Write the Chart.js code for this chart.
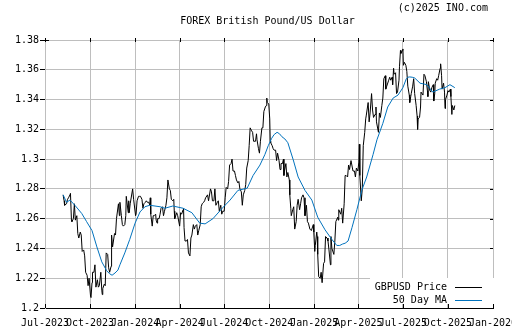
<!DOCTYPE html>
<html>
<head>
<meta charset="utf-8">
<script src="https://cdn.jsdelivr.net/npm/chart.js@4/dist/chart.umd.min.js"></script>
<style>
  html, body { margin: 0; padding: 0; background: #fff; }
  #wrap { position: relative; width: 512px; height: 335px; overflow: hidden;
          font-family: "DejaVu Sans Mono", monospace; font-size: 10px; color: #000; }
  #chart { position: absolute; left: 0; top: 0; }
  .txt { position: absolute; white-space: nowrap; line-height: 12px; }
  #copy { right: 24px; top: 2px; }
  #title { left: 0; width: 535px; text-align: center; top: 15px; }
  #legend { position: absolute; left: 370px; top: 278px; width: 126px; height: 26px; background: #fff; }
  .lrow { position: absolute; right: 49px; text-align: right; }
  .lline { position: absolute; left: 85px; width: 27px; height: 1px; }
</style>
</head>
<body>
<div id="wrap">
  <canvas id="chart" width="512" height="335"></canvas>
  <div class="txt" id="copy">(c)2025 INO.com</div>
  <div class="txt" id="title">FOREX British Pound/US Dollar</div>
  <div id="legend">
    <div class="txt lrow" style="top:3px">GBPUSD Price</div>
    <div class="lline" style="top:9px;background:#000"></div>
    <div class="txt lrow" style="top:16px">50 Day MA</div>
    <div class="lline" style="top:22px;background:#0072bd"></div>
  </div>
</div>
<script>
// x axis: quarter starts
const tickDates = ['2023-07-01', '2023-10-01', '2024-01-01', '2024-04-01', '2024-07-01', '2024-10-01',
  '2025-01-01', '2025-04-01', '2025-07-01', '2025-10-01', '2026-01-01'];
const tickLabels = ['Jul-2023', 'Oct-2023', 'Jan-2024', 'Apr-2024', 'Jul-2024', 'Oct-2024',
  'Jan-2025', 'Apr-2025', 'Jul-2025', 'Oct-2025', 'Jan-2026'];

// GBPUSD closes
const price2023 = [
  ['2023-08-07', 1.2760], ['2023-08-09', 1.2720], ['2023-08-10', 1.2690], ['2023-08-14', 1.2700],
  ['2023-08-16', 1.2730], ['2023-08-18', 1.2740], ['2023-08-21', 1.2760], ['2023-08-22', 1.2770],
  ['2023-08-24', 1.2590], ['2023-08-25', 1.2580], ['2023-08-28', 1.2600], ['2023-08-30', 1.2700],
  ['2023-09-01', 1.2590], ['2023-09-04', 1.2620], ['2023-09-06', 1.2500], ['2023-09-08', 1.2470],
  ['2023-09-11', 1.2510], ['2023-09-13', 1.2490], ['2023-09-15', 1.2380], ['2023-09-18', 1.2390],
  ['2023-09-20', 1.2350], ['2023-09-22', 1.2240], ['2023-09-25', 1.2220], ['2023-09-27', 1.2150],
  ['2023-09-29', 1.2200], ['2023-10-02', 1.2080], ['2023-10-03', 1.2070], ['2023-10-05', 1.2170],
  ['2023-10-06', 1.2240], ['2023-10-09', 1.2240], ['2023-10-11', 1.2290], ['2023-10-13', 1.2140],
  ['2023-10-16', 1.2190], ['2023-10-18', 1.2140], ['2023-10-20', 1.2150], ['2023-10-23', 1.2240],
  ['2023-10-25', 1.2120], ['2023-10-26', 1.2090], ['2023-10-27', 1.2130], ['2023-10-30', 1.2160],
  ['2023-11-01', 1.2150], ['2023-11-03', 1.2370], ['2023-11-06', 1.2360], ['2023-11-08', 1.2270],
  ['2023-11-10', 1.2240], ['2023-11-13', 1.2280], ['2023-11-14', 1.2490], ['2023-11-16', 1.2410],
  ['2023-11-20', 1.2500], ['2023-11-22', 1.2490], ['2023-11-24', 1.2600], ['2023-11-28', 1.2700],
  ['2023-11-30', 1.2620], ['2023-12-01', 1.2710], ['2023-12-04', 1.2620], ['2023-12-06', 1.2560],
  ['2023-12-08', 1.2550], ['2023-12-11', 1.2560], ['2023-12-13', 1.2620], ['2023-12-14', 1.2750],
  ['2023-12-18', 1.2640], ['2023-12-19', 1.2720], ['2023-12-20', 1.2640], ['2023-12-22', 1.2700],
  ['2023-12-27', 1.2800], ['2023-12-29', 1.2730]
];
const price2024 = [
  ['2024-01-02', 1.2620], ['2024-01-03', 1.2630], ['2024-01-05', 1.2720], ['2024-01-08', 1.2750],
  ['2024-01-10', 1.2750], ['2024-01-12', 1.2750], ['2024-01-15', 1.2730], ['2024-01-17', 1.2670],
  ['2024-01-19', 1.2700], ['2024-01-22', 1.2710], ['2024-01-24', 1.2720], ['2024-01-26', 1.2710],
  ['2024-01-29', 1.2710], ['2024-01-31', 1.2690], ['2024-02-01', 1.2740], ['2024-02-02', 1.2630],
  ['2024-02-05', 1.2550], ['2024-02-07', 1.2620], ['2024-02-09', 1.2620], ['2024-02-12', 1.2630],
  ['2024-02-13', 1.2590], ['2024-02-15', 1.2570], ['2024-02-16', 1.2600], ['2024-02-19', 1.2600],
  ['2024-02-21', 1.2630], ['2024-02-23', 1.2670], ['2024-02-26', 1.2680], ['2024-02-28', 1.2620],
  ['2024-03-01', 1.2650], ['2024-03-04', 1.2690], ['2024-03-06', 1.2740], ['2024-03-08', 1.2860],
  ['2024-03-11', 1.2800], ['2024-03-13', 1.2790], ['2024-03-15', 1.2730], ['2024-03-18', 1.2720],
  ['2024-03-20', 1.2730], ['2024-03-21', 1.2650], ['2024-03-22', 1.2600], ['2024-03-26', 1.2640],
  ['2024-03-28', 1.2620], ['2024-04-01', 1.2550], ['2024-04-03', 1.2640], ['2024-04-05', 1.2630],
  ['2024-04-08', 1.2660], ['2024-04-09', 1.2670], ['2024-04-10', 1.2540], ['2024-04-12', 1.2450],
  ['2024-04-15', 1.2450], ['2024-04-17', 1.2460], ['2024-04-19', 1.2370], ['2024-04-22', 1.2350],
  ['2024-04-24', 1.2470], ['2024-04-26', 1.2490], ['2024-04-29', 1.2560], ['2024-05-01', 1.2530],
  ['2024-05-03', 1.2550], ['2024-05-06', 1.2560], ['2024-05-08', 1.2490], ['2024-05-10', 1.2520],
  ['2024-05-13', 1.2560], ['2024-05-15', 1.2680], ['2024-05-17', 1.2700], ['2024-05-20', 1.2710],
  ['2024-05-22', 1.2720], ['2024-05-24', 1.2740], ['2024-05-28', 1.2760], ['2024-05-30', 1.2720],
  ['2024-06-03', 1.2800], ['2024-06-05', 1.2780], ['2024-06-07', 1.2720], ['2024-06-10', 1.2720],
  ['2024-06-12', 1.2800], ['2024-06-14', 1.2690], ['2024-06-17', 1.2710], ['2024-06-19', 1.2720],
  ['2024-06-21', 1.2650], ['2024-06-24', 1.2690], ['2024-06-26', 1.2630], ['2024-06-28', 1.2650],
  ['2024-07-01', 1.2650], ['2024-07-03', 1.2740], ['2024-07-05', 1.2810], ['2024-07-08', 1.2800],
  ['2024-07-10', 1.2850], ['2024-07-12', 1.2960], ['2024-07-15', 1.2970], ['2024-07-17', 1.3000],
  ['2024-07-19', 1.2920], ['2024-07-22', 1.2920], ['2024-07-24', 1.2890], ['2024-07-26', 1.2860],
  ['2024-07-29', 1.2840], ['2024-07-31', 1.2850], ['2024-08-02', 1.2800], ['2024-08-05', 1.2780],
  ['2024-08-07', 1.2690], ['2024-08-09', 1.2760], ['2024-08-12', 1.2790], ['2024-08-14', 1.2830],
  ['2024-08-16', 1.2940], ['2024-08-19', 1.2990], ['2024-08-21', 1.3090], ['2024-08-23', 1.3210],
  ['2024-08-26', 1.3190], ['2024-08-28', 1.3180], ['2024-08-30', 1.3120], ['2024-09-03', 1.3120],
  ['2024-09-05', 1.3170], ['2024-09-06', 1.3130], ['2024-09-09', 1.3070], ['2024-09-11', 1.3040],
  ['2024-09-13', 1.3120], ['2024-09-16', 1.3210], ['2024-09-18', 1.3210], ['2024-09-20', 1.3320],
  ['2024-09-23', 1.3350], ['2024-09-25', 1.3360], ['2024-09-26', 1.3410], ['2024-09-27', 1.3380],
  ['2024-09-30', 1.3370], ['2024-10-02', 1.3270], ['2024-10-03', 1.3120], ['2024-10-04', 1.3110],
  ['2024-10-07', 1.3090], ['2024-10-09', 1.3070], ['2024-10-11', 1.3060], ['2024-10-14', 1.3060],
  ['2024-10-16', 1.2990], ['2024-10-18', 1.3040], ['2024-10-21', 1.2990], ['2024-10-23', 1.2930],
  ['2024-10-25', 1.2970], ['2024-10-28', 1.2970], ['2024-10-30', 1.3000], ['2024-10-31', 1.2890],
  ['2024-11-01', 1.2920], ['2024-11-04', 1.2970], ['2024-11-06', 1.2880], ['2024-11-08', 1.2910],
  ['2024-11-11', 1.2860], ['2024-11-12', 1.2760], ['2024-11-14', 1.2670], ['2024-11-15', 1.2620],
  ['2024-11-18', 1.2660], ['2024-11-20', 1.2680], ['2024-11-22', 1.2530], ['2024-11-25', 1.2580],
  ['2024-11-27', 1.2690], ['2024-11-29', 1.2730], ['2024-12-02', 1.2660], ['2024-12-04', 1.2700],
  ['2024-12-06', 1.2740], ['2024-12-09', 1.2760], ['2024-12-11', 1.2740], ['2024-12-13', 1.2620],
  ['2024-12-16', 1.2690], ['2024-12-18', 1.2580], ['2024-12-20', 1.2570], ['2024-12-23', 1.2530],
  ['2024-12-26', 1.2520], ['2024-12-30', 1.2560], ['2024-12-31', 1.2510]
];
const price2025 = [
  ['2025-01-02', 1.2380], ['2025-01-03', 1.2420], ['2025-01-06', 1.2510], ['2025-01-07', 1.2480],
  ['2025-01-08', 1.2360], ['2025-01-10', 1.2210], ['2025-01-13', 1.2200], ['2025-01-15', 1.2240],
  ['2025-01-17', 1.2170], ['2025-01-20', 1.2300], ['2025-01-22', 1.2310], ['2025-01-24', 1.2480],
  ['2025-01-27', 1.2470], ['2025-01-29', 1.2450], ['2025-01-31', 1.2390], ['2025-02-03', 1.2290],
  ['2025-02-04', 1.2480], ['2025-02-06', 1.2400], ['2025-02-10', 1.2360], ['2025-02-12', 1.2450],
  ['2025-02-14', 1.2580], ['2025-02-18', 1.2610], ['2025-02-19', 1.2590], ['2025-02-20', 1.2660],
  ['2025-02-24', 1.2630], ['2025-02-26', 1.2670], ['2025-02-28', 1.2570], ['2025-03-03', 1.2700],
  ['2025-03-05', 1.2890], ['2025-03-07', 1.2890], ['2025-03-10', 1.2880], ['2025-03-12', 1.2960],
  ['2025-03-14', 1.2930], ['2025-03-17', 1.2990], ['2025-03-19', 1.2990], ['2025-03-21', 1.2920],
  ['2025-03-24', 1.2920], ['2025-03-26', 1.2880], ['2025-03-28', 1.2940], ['2025-03-31', 1.2920],
  ['2025-04-02', 1.2980], ['2025-04-03', 1.3100], ['2025-04-04', 1.2890], ['2025-04-07', 1.2720],
  ['2025-04-09', 1.2800], ['2025-04-11', 1.3090], ['2025-04-14', 1.3180], ['2025-04-16', 1.3270],
  ['2025-04-17', 1.3290], ['2025-04-21', 1.3380], ['2025-04-23', 1.3250], ['2025-04-25', 1.3310],
  ['2025-04-28', 1.3440], ['2025-04-30', 1.3330], ['2025-05-02', 1.3280], ['2025-05-05', 1.3300],
  ['2025-05-07', 1.3350], ['2025-05-08', 1.3250], ['2025-05-12', 1.3180], ['2025-05-14', 1.3310],
  ['2025-05-16', 1.3280], ['2025-05-19', 1.3360], ['2025-05-21', 1.3410], ['2025-05-23', 1.3540],
  ['2025-05-26', 1.3560], ['2025-05-27', 1.3470], ['2025-05-29', 1.3490], ['2025-06-02', 1.3530],
  ['2025-06-04', 1.3550], ['2025-06-06', 1.3530], ['2025-06-09', 1.3550], ['2025-06-10', 1.3500],
  ['2025-06-12', 1.3610], ['2025-06-13', 1.3570], ['2025-06-16', 1.3580], ['2025-06-18', 1.3440],
  ['2025-06-20', 1.3450], ['2025-06-23', 1.3530], ['2025-06-24', 1.3620], ['2025-06-26', 1.3730],
  ['2025-06-27', 1.3710], ['2025-06-30', 1.3730], ['2025-07-01', 1.3740], ['2025-07-02', 1.3630],
  ['2025-07-04', 1.3650], ['2025-07-07', 1.3630], ['2025-07-09', 1.3590], ['2025-07-11', 1.3490],
  ['2025-07-14', 1.3430], ['2025-07-15', 1.3380], ['2025-07-17', 1.3420], ['2025-07-18', 1.3440],
  ['2025-07-21', 1.3490], ['2025-07-23', 1.3540], ['2025-07-25', 1.3440], ['2025-07-28', 1.3360],
  ['2025-07-30', 1.3290], ['2025-07-31', 1.3200], ['2025-08-01', 1.3270], ['2025-08-04', 1.3280],
  ['2025-08-06', 1.3350], ['2025-08-07', 1.3450], ['2025-08-11', 1.3430], ['2025-08-13', 1.3570],
  ['2025-08-15', 1.3560], ['2025-08-18', 1.3520], ['2025-08-20', 1.3460], ['2025-08-21', 1.3420],
  ['2025-08-22', 1.3520], ['2025-08-25', 1.3460], ['2025-08-27', 1.3450], ['2025-08-29', 1.3480],
  ['2025-09-01', 1.3500], ['2025-09-02', 1.3390], ['2025-09-04', 1.3440], ['2025-09-05', 1.3510],
  ['2025-09-08', 1.3540], ['2025-09-10', 1.3530], ['2025-09-12', 1.3560], ['2025-09-15', 1.3610],
  ['2025-09-16', 1.3640], ['2025-09-18', 1.3560], ['2025-09-19', 1.3470], ['2025-09-22', 1.3510],
  ['2025-09-24', 1.3450], ['2025-09-25', 1.3340], ['2025-09-26', 1.3400], ['2025-09-29', 1.3430],
  ['2025-10-01', 1.3460], ['2025-10-03', 1.3450], ['2025-10-06', 1.3470], ['2025-10-07', 1.3420],
  ['2025-10-09', 1.3300], ['2025-10-10', 1.3360], ['2025-10-13', 1.3330], ['2025-10-15', 1.3360]
];

// 50 day moving average
const movingAvg = [
  ['2023-08-07', 1.2760], ['2023-08-14', 1.2710], ['2023-08-21', 1.2725], ['2023-08-31', 1.2690],
  ['2023-09-14', 1.2635], ['2023-09-24', 1.2580], ['2023-10-05', 1.2520], ['2023-10-15', 1.2410],
  ['2023-10-25', 1.2310], ['2023-11-04', 1.2250], ['2023-11-10', 1.2230], ['2023-11-15', 1.2220],
  ['2023-11-21', 1.2235], ['2023-11-27', 1.2255], ['2023-12-01', 1.2290], ['2023-12-11', 1.2370],
  ['2023-12-21', 1.2460], ['2024-01-01', 1.2570], ['2024-01-11', 1.2645], ['2024-01-21', 1.2680],
  ['2024-01-31', 1.2690], ['2024-02-21', 1.2680], ['2024-03-02', 1.2670], ['2024-03-18', 1.2685],
  ['2024-04-08', 1.2670], ['2024-04-26', 1.2640], ['2024-05-12', 1.2570], ['2024-05-23', 1.2565],
  ['2024-06-08', 1.2600], ['2024-06-27', 1.2670], ['2024-07-13', 1.2725], ['2024-07-29', 1.2790],
  ['2024-08-17', 1.2805], ['2024-08-29', 1.2890], ['2024-09-12', 1.2960], ['2024-09-22', 1.3030],
  ['2024-09-29', 1.3090], ['2024-10-06', 1.3140], ['2024-10-11', 1.3165], ['2024-10-17', 1.3180],
  ['2024-10-22', 1.3170], ['2024-10-27', 1.3150], ['2024-11-02', 1.3135], ['2024-11-08', 1.3110],
  ['2024-11-19', 1.2995], ['2024-11-29', 1.2880], ['2024-12-13', 1.2790], ['2024-12-27', 1.2725],
  ['2025-01-08', 1.2610], ['2025-01-23', 1.2525], ['2025-02-06', 1.2460], ['2025-02-16', 1.2420],
  ['2025-02-22', 1.2420], ['2025-02-28', 1.2430], ['2025-03-05', 1.2435], ['2025-03-11', 1.2450],
  ['2025-03-19', 1.2540], ['2025-03-29', 1.2660], ['2025-04-08', 1.2790], ['2025-04-18', 1.2880],
  ['2025-05-01', 1.3030], ['2025-05-09', 1.3130], ['2025-05-21', 1.3240], ['2025-05-31', 1.3350],
  ['2025-06-11', 1.3410], ['2025-06-21', 1.3430], ['2025-07-01', 1.3480], ['2025-07-08', 1.3540],
  ['2025-07-11', 1.3550], ['2025-07-15', 1.3552], ['2025-07-20', 1.3550], ['2025-07-25', 1.3545],
  ['2025-08-05', 1.3510], ['2025-08-19', 1.3500], ['2025-08-31', 1.3450], ['2025-09-14', 1.3470],
  ['2025-09-25', 1.3480], ['2025-10-05', 1.3500], ['2025-10-15', 1.3480]
];

const gridColor = '#bebebe';
const maColor = '#0072bd';
const tickFont = { family: 'DejaVu Sans Mono', size: 10 };

// days since 1 Jul 2023
function dayOf(s) {
  const t = Date.UTC(+s.slice(0, 4), +s.slice(5, 7) - 1, +s.slice(8, 10));
  return (t - Date.UTC(2023, 6, 1)) / 86400000;
}
const toPoints = rows => rows.map(r => ({ x: dayOf(r[0]), y: r[1] }));
const tickDays = tickDates.map(dayOf);

// little black tick marks on the frame
const frameMarks = {
  id: 'frameMarks',
  afterDraw(chart) {
    const { ctx, chartArea: a, scales } = chart;
    ctx.save();
    ctx.strokeStyle = '#000';
    ctx.lineWidth = 1;
    ctx.beginPath();
    tickDays.forEach(d => {
      const x = Math.round(scales.x.getPixelForValue(d)) + 0.5;
      ctx.moveTo(x, a.top - 2); ctx.lineTo(x, a.top + 2);
      ctx.moveTo(x, a.bottom - 4); ctx.lineTo(x, a.bottom);
    });
    scales.y.ticks.forEach(t => {
      const y = Math.round(scales.y.getPixelForValue(t.value)) + 0.5;
      ctx.moveTo(a.right - 3, y); ctx.lineTo(a.right, y);
    });
    ctx.moveTo(a.left, a.top + 0.5); ctx.lineTo(a.left + 4, a.top + 0.5);
    ctx.stroke();
    ctx.restore();
  }
};

const ctx = document.getElementById('chart').getContext('2d');
new Chart(ctx, {
  type: 'line',
  data: {
    datasets: [
      { label: '50 Day MA', data: toPoints(movingAvg), borderColor: maColor,
        borderWidth: 1, pointRadius: 0, tension: 0 },
      { label: 'GBPUSD Price', data: toPoints(price2023.concat(price2024, price2025)),
        borderColor: '#000', borderWidth: 1, pointRadius: 0, tension: 0 }
    ]
  },
  options: {
    responsive: false,
    animation: false,
    devicePixelRatio: 1,
    layout: { padding: { top: 40, right: 19, left: 0, bottom: 0 } },
    plugins: { legend: { display: false }, tooltip: { enabled: false } },
    scales: {
      x: {
        type: 'linear', min: 0, max: tickDays[tickDays.length - 1],
        afterBuildTicks: s => { s.ticks = tickDays.map(v => ({ value: v })); },
        afterFit: s => { s.height = 27; s.paddingLeft = 0; s.paddingRight = 0; },
        grid: { color: gridColor, drawTicks: false },
        border: { color: '#000' },
        ticks: { autoSkip: false, maxRotation: 0, minRotation: 0, padding: 9, color: '#000',
                 font: tickFont, callback: (v, i) => tickLabels[i] }
      },
      y: {
        min: 1.2, max: 1.38,
        afterFit: s => { s.width = 45; },
        grid: { color: gridColor, tickColor: '#000', tickLength: 5 },
        border: { color: gridColor },
        ticks: { stepSize: 0.02, padding: 1, color: '#000', font: tickFont,
                 callback: v => String(+v.toFixed(2)) }
      }
    }
  },
  plugins: [frameMarks]
});
</script>
</body>
</html>
